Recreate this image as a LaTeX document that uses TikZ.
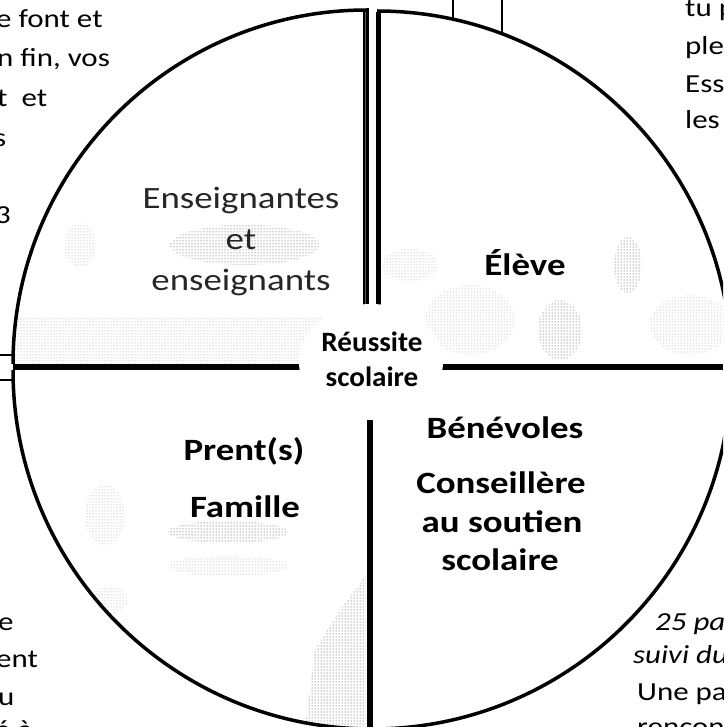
\documentclass[tikz,border=0pt]{standalone}
\usepackage{fontspec}
\usepackage{graphicx}
\setmainfont{Carlito}
\usetikzlibrary{patterns}
\newcommand{\widetxt}[1]{\scalebox{1.19}[1]{#1}}
\newcommand{\widectr}[1]{\scalebox{1.04}[1]{#1}}
\tikzset{
  rim/.style={line width=3.5pt, black},
  crossline/.style={line width=6pt, black},
  wire/.style={line width=1.2pt, black},
  stip/.style={pattern=dots, pattern color=black!75},
  stipl/.style={pattern=dots, pattern color=black!40},
  quadlabel/.style={font=\fontsize{31}{36}\selectfont\bfseries, anchor=base, inner sep=0pt},
  thinlabel/.style={font=\fontsize{31}{36}\selectfont, anchor=base, inner sep=0pt, text=black!85},
  centerlabel/.style={font=\fontsize{28}{32}\selectfont\bfseries, anchor=base, inner sep=0pt},
  sidetext/.style={font=\fontsize{26}{30}\selectfont, anchor=base west, inner sep=0pt},
  sideit/.style={font=\fontsize{26}{30}\selectfont\itshape, anchor=base west, inner sep=0pt}
}
\begin{document}
\begin{tikzpicture}[x=1pt,y=-1pt]
\useasboundingbox (0,0) rectangle (723,727);
\clip (0,0) rectangle (723,727);

% halftone-like textures
\begin{scope}
  \clip (367,364) -- (367,10) arc[start angle=270, end angle=180, radius=354] -- cycle;
  \fill[stipl] (15,318) rectangle (367,364);
  \fill[stip] (245,245) ellipse[x radius=75, y radius=20];
  \fill[stipl] (80,245) ellipse[x radius=16, y radius=22];
\end{scope}
\begin{scope}
  \clip (377,364) -- (377,10) arc[start angle=-90, end angle=0, radius=354] -- cycle;
  \fill[stipl] (410,265) ellipse[x radius=28, y radius=16];
  \fill[stip] (628,265) ellipse[x radius=14, y radius=28];
  \fill[stipl] (470,320) ellipse[x radius=45, y radius=35];
  \fill[stip] (560,330) ellipse[x radius=22, y radius=30];
  \fill[stipl] (690,325) ellipse[x radius=40, y radius=30];
\end{scope}
\begin{scope}
  \clip (13,370) arc[start angle=180, end angle=90, radius=359] -- (372,370) -- cycle;
  \fill[stip] (228,532) ellipse[x radius=60, y radius=11];
  \fill[stipl] (228,566) ellipse[x radius=60, y radius=10];
  \fill[stip] (366,575) -- (340,610) -- (315,650) -- (305,727) -- (366,727) -- cycle;
  \fill[stipl] (105,515) ellipse[x radius=20, y radius=30];
  \fill[stipl] (110,600) ellipse[x radius=18, y radius=14];
\end{scope}

% quadrant outlines
\draw[rim, line join=miter] (367,364) -- (367,10) arc[start angle=270, end angle=180, radius=354];
\draw[line width=1.2pt] (364,364) -- (364,12);
\draw[rim, line width=5pt] (378,364) -- (378,12);
\draw[rim] (377,11) arc[start angle=-90, end angle=0, radius=354];
\draw[rim] (13,370) arc[start angle=180, end angle=0, radius=359];
\draw[crossline] (13,367) -- (723,367);
\draw[crossline] (370,367) -- (370,727);

% connector stubs at the borders
\coordinate (t1) at (453,0);
\coordinate (t1e) at (453,18);
\coordinate (t2) at (502,0);
\coordinate (t2e) at (502,33);
\coordinate (l1) at (0,355);
\coordinate (l1e) at (13,355);
\coordinate (l2) at (0,380);
\coordinate (l2e) at (14,380);
\draw[wire] (t1) -- (t1e);
\draw[wire] (t2) -- (t2e);
\draw[wire] (l1) -- (l1e);
\draw[wire] (l2) -- (l2e);

% centre
\fill[white] (371,362) ellipse[x radius=72, y radius=58];
\node[centerlabel] (c1) at (372,351) {\widectr{Réussite}};
\node[centerlabel] (c2) at (372,386) {\widectr{scolaire}};

% quadrant labels
\node[thinlabel] (q1a) at (241,208) {\widetxt{Enseignantes}};
\node[thinlabel] (q1b) at (241,249) {\widetxt{et}};
\node[thinlabel] (q1c) at (241,290) {\widetxt{enseignants}};
\node[quadlabel] (q2) at (525,275) {\widetxt{Élève}};
\node[quadlabel] (q3a) at (244,460) {\widetxt{Prent(s)}};
\node[quadlabel] (q3b) at (245,517) {\widetxt{Famille}};
\node[quadlabel] (q4a) at (505,438) {\widetxt{Bénévoles}};
\node[quadlabel] (q4b) at (501,493) {\widetxt{Conseillère}};
\node[quadlabel] (q4c) at (502,532) {\widetxt{au soutien}};
\node[quadlabel] (q4d) at (500,570) {\widetxt{scolaire}};

% surrounding text fragments
\node[sidetext] (a1) at (-4,28) {\widetxt{e font et}};
\node[sidetext] (a2) at (-3,67) {\widetxt{n fin, vos}};
\node[sidetext] (a3) at (-3,107) {\widetxt{t \ et}};
\node[sidetext] (a4) at (-6,147) {\widetxt{s}};
\node[sidetext] (a5) at (-5,223) {\widetxt{3}};
\node[sidetext] (b1) at (685,17) {\widetxt{tu p}};
\node[sidetext] (b2) at (685,55) {\widetxt{ple}};
\node[sidetext] (b3) at (685,93) {\widetxt{Ess}};
\node[sidetext] (b4) at (685,129) {\widetxt{les}};
\node[sidetext] (d1) at (-2,630) {\widetxt{e}};
\node[sidetext] (d2) at (-4,667) {\widetxt{ent}};
\node[sidetext] (d3) at (-2,705) {\widetxt{u}};
\node[sidetext] (d4) at (-5,738) {\widetxt{é à}};
\node[sideit] (e1) at (655,630) {\widetxt{25 pa}};
\node[sideit] (e2) at (633,663) {\widetxt{suivi du}};
\node[sidetext] (e3) at (637,700) {\widetxt{Une pa}};
\node[sidetext] (e4) at (637,735) {\widetxt{rencon}};
\end{tikzpicture}
\end{document}
